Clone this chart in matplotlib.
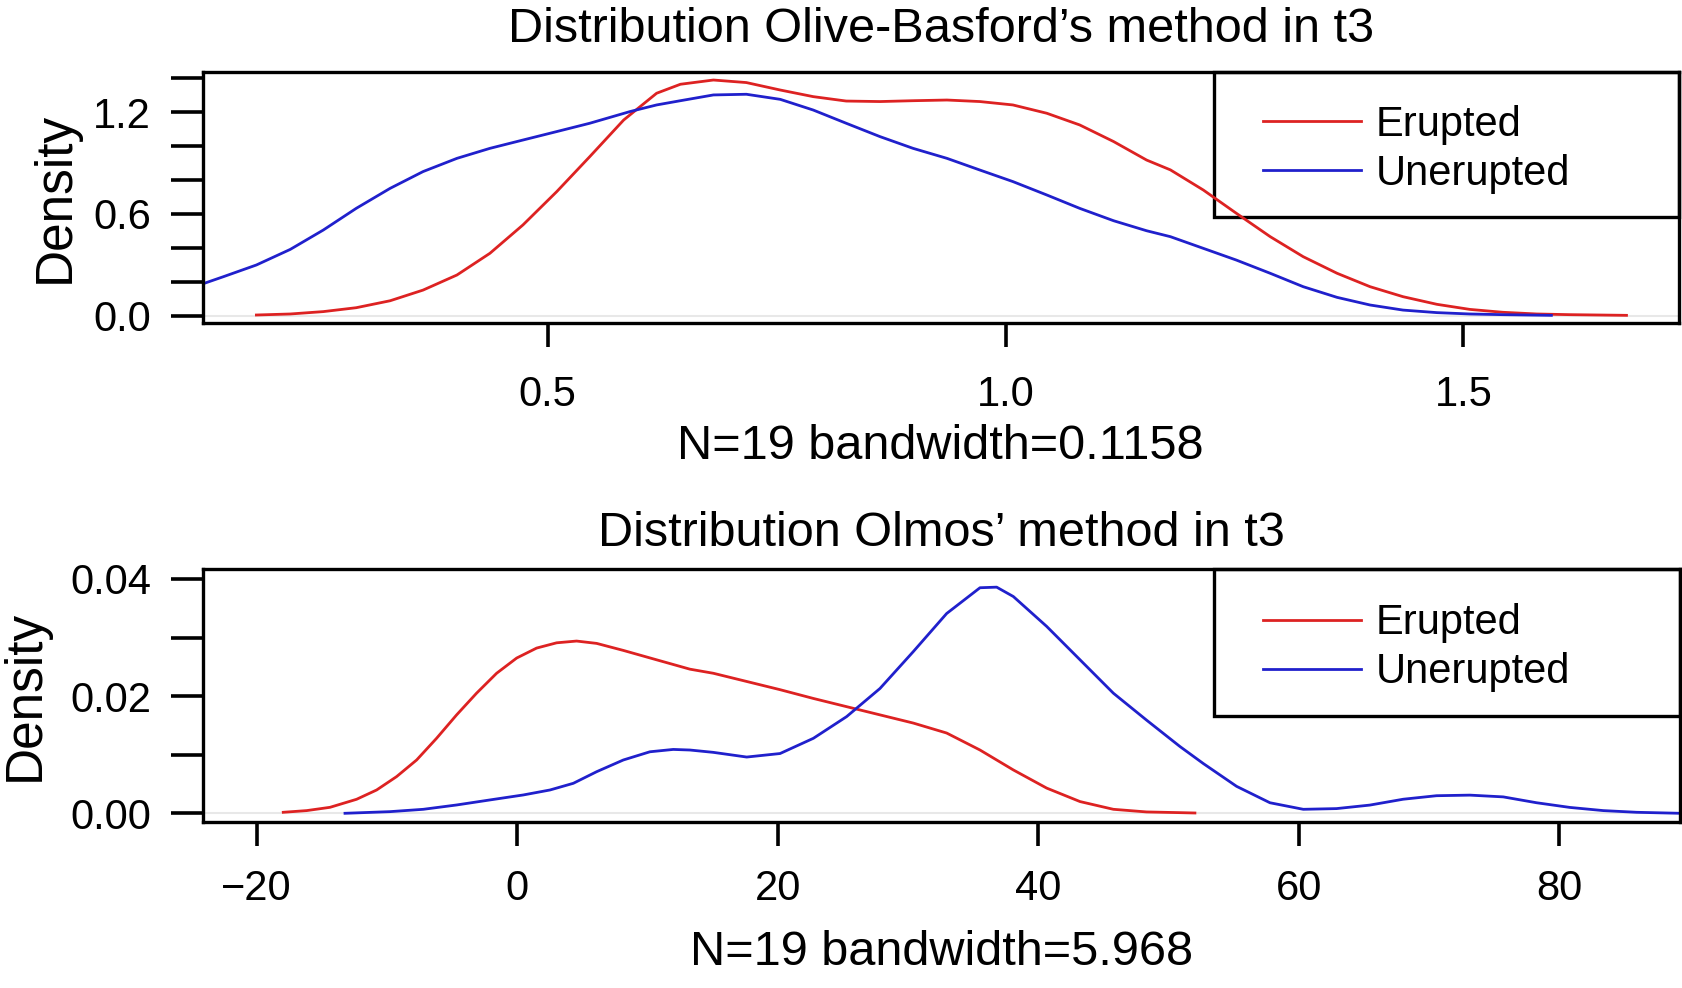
import matplotlib.pyplot as plt
import matplotlib.patches as mpatches

plt.rcParams['font.family'] = ['Liberation Sans', 'DejaVu Sans']

# Olive-Basford's method, t3 (density curves)
ob_erupted_x = [0.182, 0.219, 0.255, 0.291, 0.328, 0.364, 0.401, 0.437, 0.473, 0.510,
                0.546, 0.583, 0.619, 0.645, 0.681, 0.717, 0.754, 0.790, 0.826, 0.863,
                0.899, 0.936, 0.972, 1.008, 1.045, 1.081, 1.118, 1.154, 1.180, 1.216,
                1.252, 1.289, 1.325, 1.362, 1.398, 1.434, 1.471, 1.507, 1.543, 1.580,
                1.616, 1.678]
ob_erupted_y = [0.004, 0.010, 0.024, 0.047, 0.088, 0.151, 0.240, 0.368, 0.535, 0.732,
                0.938, 1.154, 1.312, 1.365, 1.390, 1.375, 1.331, 1.292, 1.266, 1.263,
                1.268, 1.272, 1.263, 1.243, 1.194, 1.125, 1.027, 0.918, 0.860, 0.741,
                0.604, 0.466, 0.348, 0.250, 0.171, 0.112, 0.067, 0.037, 0.020, 0.010,
                0.006, 0.002]
ob_unerupted_x = [0.123, 0.146, 0.182, 0.219, 0.255, 0.291, 0.328, 0.364, 0.401, 0.437,
                  0.473, 0.510, 0.546, 0.590, 0.619, 0.645, 0.681, 0.717, 0.754, 0.790,
                  0.826, 0.863, 0.899, 0.936, 0.972, 1.008, 1.045, 1.081, 1.118, 1.154,
                  1.180, 1.216, 1.252, 1.289, 1.325, 1.362, 1.398, 1.434, 1.471, 1.507,
                  1.543, 1.596]
ob_unerupted_y = [0.187, 0.230, 0.299, 0.391, 0.505, 0.633, 0.751, 0.850, 0.928, 0.987,
                  1.036, 1.086, 1.135, 1.204, 1.243, 1.268, 1.302, 1.306, 1.276, 1.213,
                  1.135, 1.056, 0.987, 0.928, 0.859, 0.791, 0.712, 0.633, 0.560, 0.501,
                  0.466, 0.397, 0.328, 0.250, 0.171, 0.108, 0.063, 0.033, 0.018, 0.010,
                  0.006, 0.002]

# Olmos' method, t3
ol_erupted_x = [-17.96, -16.16, -14.37, -12.33, -10.79, -9.26, -7.72, -6.19, -4.65, -3.12,
                -1.58, -0.04, 1.49, 3.03, 4.56, 6.10, 8.15, 10.70, 13.26, 15.06,
                17.62, 20.18, 22.74, 25.29, 27.85, 30.41, 32.97, 35.53, 38.09, 40.65,
                43.21, 45.77, 48.32, 50.88, 52.03]
ol_erupted_y = [0.00017, 0.00046, 0.00102, 0.00239, 0.00398, 0.00626, 0.0091, 0.0128, 0.0168, 0.0205,
                0.0239, 0.0265, 0.0282, 0.0291, 0.0294, 0.0290, 0.0278, 0.0262, 0.0246, 0.0239,
                0.0225, 0.0211, 0.0196, 0.0182, 0.0168, 0.0154, 0.0137, 0.0108, 0.0074, 0.0043,
                0.0020, 0.00068, 0.00023, 0.00011, 0.00005]
ol_unerupted_x = [-13.22, -9.77, -7.21, -4.65, -2.09, 0.47, 2.52, 4.31, 6.10, 8.15,
                  10.19, 11.98, 13.26, 15.06, 17.62, 20.18, 22.74, 25.29, 27.85, 30.41,
                  32.97, 35.53, 36.81, 38.09, 40.65, 43.21, 45.77, 48.32, 50.88, 52.67,
                  55.23, 57.79, 60.35, 62.90, 65.46, 68.02, 70.58, 73.14, 75.70, 78.26,
                  80.82, 83.38, 85.94, 89.26]
ol_unerupted_y = [0.0, 0.00028, 0.00068, 0.00142, 0.00228, 0.00313, 0.00398, 0.00512, 0.0071, 0.0091,
                  0.0105, 0.0109, 0.0108, 0.0104, 0.0096, 0.0102, 0.0128, 0.0165, 0.0213, 0.0276,
                  0.0341, 0.0385, 0.0386, 0.0370, 0.0319, 0.0262, 0.0205, 0.0159, 0.0114, 0.0085,
                  0.0046, 0.0018, 0.00068, 0.0008, 0.0014, 0.0024, 0.0030, 0.0031, 0.0028, 0.0018,
                  0.0010, 0.00046, 0.00017, 0.0]

series_labels = ['Erupted', 'Unerupted']
series_colors = ['#dd2222', '#2020cc']

ob_xticks = [0.5, 1.0, 1.5]
ob_xticklabels = ['0.5', '1.0', '1.5']
ob_yticks = [0.0, 0.2, 0.4, 0.6, 0.8, 1.0, 1.2, 1.4]
ob_yticklabels = ['0.0', '', '', '0.6', '', '', '1.2', '']

ol_xticks = [-20, 0, 20, 40, 60, 80]
ol_xticklabels = ['\u221220', '0', '20', '40', '60', '80']
ol_yticks = [0.0, 0.01, 0.02, 0.03, 0.04]
ol_yticklabels = ['0.00', '', '0.02', '', '0.04']

fig = plt.figure(figsize=(16.83, 9.88), dpi=100)
ax1 = fig.add_axes([0.1204, 0.6728, 0.8772, 0.2547])
ax2 = fig.add_axes([0.1204, 0.1677, 0.8778, 0.2561])


def draw_panel(ax, curves, xlim, ylim, xticks, xticklabels, yticks, yticklabels,
               title, title_y, xlabel, xlabel_y, ylabel_x, xpad, legend_box):
    ax.axhline(0, color='#e8e8e8', lw=1.5, zorder=0.5)
    for (xs, ys), lab, col in zip(curves, series_labels, series_colors):
        ax.plot(xs, ys, color=col, lw=2.0, label=lab)
    ax.set_xlim(*xlim)
    ax.set_ylim(*ylim)
    ax.set_xticks(xticks)
    ax.set_xticklabels(xticklabels)
    ax.set_yticks(yticks)
    ax.set_yticklabels(yticklabels)
    ax.tick_params(axis='x', length=17.5, width=2.6, pad=xpad, labelsize=30)
    ax.tick_params(axis='y', length=23, width=2.6, pad=14, labelsize=30)
    for sp in ax.spines.values():
        sp.set_linewidth(2.4)
    ax.set_title(title, fontsize=35, y=title_y, pad=0, va='baseline')
    ax.set_xlabel(xlabel, fontsize=35, va='baseline')
    ax.xaxis.set_label_coords(0.5, xlabel_y)
    ax.set_ylabel('Density', fontsize=37)
    ax.yaxis.set_label_coords(ylabel_x, 0.5)

    # legend box (not filled, curves show through as in the original)
    x0, y0 = legend_box
    ax.add_patch(mpatches.Rectangle((x0, y0), 1 - x0, 1 - y0, transform=ax.transAxes,
                                    fill=False, lw=2.4, ec='black', clip_on=False))
    ax.legend(loc='center left', bbox_to_anchor=(x0 + 0.033, (y0 + 1) / 2 - 0.02),
              frameon=False, borderpad=0, borderaxespad=0, handlelength=2.35,
              handletextpad=0.36, labelspacing=0.22, fontsize=30)


draw_panel(ax1, [(ob_erupted_x, ob_erupted_y), (ob_unerupted_x, ob_unerupted_y)],
           (0.1233, 1.7353), (-0.0448, 1.4395), ob_xticks, ob_xticklabels,
           ob_yticks, ob_yticklabels,
           "Distribution Olive-Basford\u2019s method in t3", 1.118,
           'N=19 bandwidth=0.1158', -0.539, -0.0831, 20, (0.6852, 0.4213))

draw_panel(ax2, [(ol_erupted_x, ol_erupted_y), (ol_unerupted_x, ol_unerupted_y)],
           (-24.15, 89.27), (-0.00154, 0.04165), ol_xticks, ol_xticklabels,
           ol_yticks, ol_yticklabels,
           "Distribution Olmos\u2019 method in t3", 1.092,
           'N=19 bandwidth=5.968', -0.564, -0.1034, 16, (0.6848, 0.4202))

fig.savefig('out.png', dpi=100)
